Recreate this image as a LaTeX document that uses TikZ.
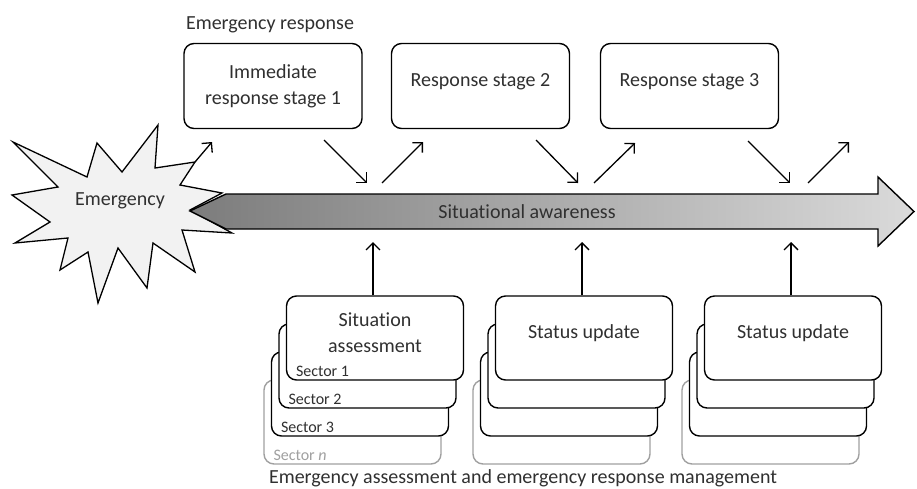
\documentclass[tikz,border=0pt]{standalone}
\usepackage{fontspec}
\setmainfont{Carlito}[Ligatures=NoCommon]
\usetikzlibrary{arrows.meta}
\definecolor{txt}{HTML}{303030}
\definecolor{bardark}{HTML}{7C7C7C}
\definecolor{barlight}{HTML}{DADADA}
\definecolor{burstfill}{HTML}{F2F2F2}
\definecolor{faded}{HTML}{A0A0A0}

\begin{document}
\begin{tikzpicture}[x=1pt, y=-1pt,
    every node/.style={text=txt, font=\fontsize{20}{26}\selectfont},
    stage/.style={draw=black, line width=1.4pt, rounded corners=10pt, fill=white,
      minimum width=178pt, minimum height=85pt, align=center},
    oneline/.style={text height=14pt, text depth=14pt},
    sheet/.style={stage, minimum width=177pt, minimum height=84pt},
    lastsheet/.style={sheet, draw=faded},
    sector/.style={anchor=south west, inner sep=0pt, xshift=10pt, yshift=4pt,
      font=\fontsize{16}{18}\selectfont},
    link/.style={line width=1.3pt, -{Straight Barb[length=7pt, width=14pt]}}]
      \useasboundingbox (0,0) rectangle (917,488);

      % the emergency burst and the awareness bar
      \draw[line width=1.3pt, fill=burstfill] (13,142) -- (87,177) -- (97,143) -- (122,172)
        -- (158,125) -- (155,168) -- (195,162) -- (180,185) -- (222,193) -- (190,210)
        -- (232,233) -- (182,230) -- (195,272) -- (153,243) -- (147,288) -- (118,248)
        -- (98,303) -- (88,252) -- (60,270) -- (68,238) -- (15,243) -- (50,222)
        -- (12,195) -- (58,187) -- cycle;
      \draw[line width=1.4pt, left color=bardark, right color=barlight] (190,211) -- (226,194)
        -- (878,194) -- (878,177) -- (914,211.5) -- (878,246) -- (878,229) -- (226,229) -- cycle;
      \node (1) at (120,201) {Emergency};
      \node (6) at (527,212) {Situational awareness};

      % response stages
      \node (2) at (270,25) {Emergency response};
      \node[stage] (3) at (273,86) {Immediate\\response stage 1};
      \node[stage, oneline] (4) at (480.5,86) {Response stage 2};
      \node[stage, oneline] (5) at (689.5,86) {Response stage 3};

      % assessment sheets, back to front
      \node[lastsheet, label={[sector, text=faded]south west:Sector \textit{n}}] (7) at (352.5,422) {};
      \node[sheet, label={[sector]south west:Sector 3}] (8) at (360,394) {};
      \node[sheet, label={[sector]south west:Sector 2}] (9) at (367.5,366) {};
      \node[sheet, label={[sector]south west:Sector 1}] (10) at (375,338) {Situation\\assessment\\[-16pt]\mbox{}};

      \node[lastsheet] (11) at (561.5,422) {};
      \node[sheet] (12) at (569,394) {};
      \node[sheet] (13) at (576.5,366) {};
      \node[sheet, oneline] (14) at (584,338) {Status update};

      \node[lastsheet] (15) at (770.5,422) {};
      \node[sheet] (16) at (778,394) {};
      \node[sheet] (17) at (785.5,366) {};
      \node[sheet, oneline] (18) at (793,338) {Status update};

      \node (19) at (523,478) {Emergency assessment and emergency response management};

      % arrow ends near the bar
      \coordinate (a0) at (195,162);
      \coordinate (a1) at (212,142);
      \coordinate (b0) at (324,140);
      \coordinate (b1) at (367,183);
      \coordinate (c0) at (382,183);
      \coordinate (c1) at (423,142);
      \coordinate (d0) at (536,140);
      \coordinate (d1) at (578,183);
      \coordinate (e0) at (594,183);
      \coordinate (e1) at (635,143);
      \coordinate (f0) at (748,141);
      \coordinate (f1) at (790,183);
      \coordinate (g0) at (808,183);
      \coordinate (g1) at (849,142);
      \coordinate (up) at (0,242);

      \draw[link] (a0) -- (a1);
      \draw[link] (b0) -- (b1);
      \draw[link] (c0) -- (c1);
      \draw[link] (d0) -- (d1);
      \draw[link] (e0) -- (e1);
      \draw[link] (f0) -- (f1);
      \draw[link] (g0) -- (g1);
      \draw[link] ([xshift=-2pt]10.north) -- ([xshift=-2pt]10.north |- up);
      \draw[link] ([xshift=-2pt]14.north) -- ([xshift=-2pt]14.north |- up);
      \draw[link] ([xshift=-2pt]18.north) -- ([xshift=-2pt]18.north |- up);
    \end{tikzpicture}
\end{document}
